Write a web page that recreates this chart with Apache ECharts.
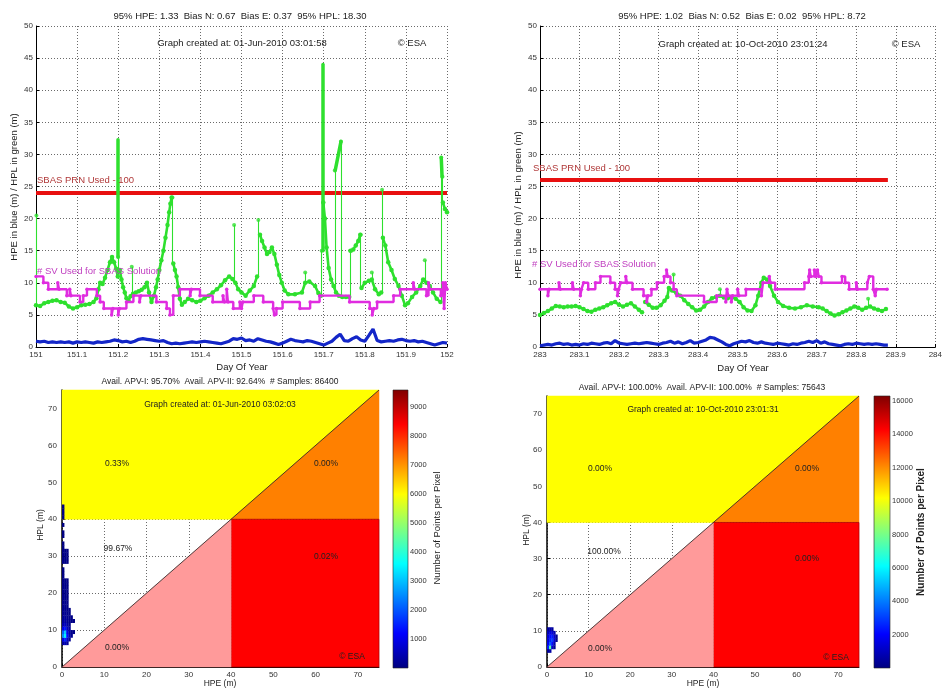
<!DOCTYPE html>
<html><head><meta charset="utf-8">
<script src="https://cdn.jsdelivr.net/npm/echarts@6/dist/echarts.min.js"></script>
<style>html,body{margin:0;padding:0;background:#fff}#c{width:945px;height:690px}</style>
</head><body><div id="c"></div>
<script>
// ---------------- DATA ----------------
// Top-left (day 151)
const dayRangeLeft = [151, 152];
const dayRangeRight = [283, 284];
const hpeLeftStart = 151.0, hpeRightStart = 283.0, hpeStep = 0.01;
const hpeLeft = [0.9,0.8,0.9,0.7,0.8,0.7,0.8,0.7,0.8,0.6,0.8,0.7,0.8,0.7,0.6,0.8,0.7,0.8,0.9,1.1,1.0,0.8,0.9,0.7,0.9,1.2,1.3,1.2,1.1,1.0,0.9,1.0,0.7,0.5,0.6,0.5,0.6,0.7,0.8,0.7,0.8,0.9,0.8,0.7,0.6,0.5,0.7,0.9,1.3,1.2,1.4,1.0,1.1,0.9,1.3,1.1,0.9,0.8,0.6,0.4,0.6,0.9,1.2,1.0,0.9,0.8,1.0,0.9,0.7,0.5,0.3,0.6,0.9,1.5,2.0,1.0,0.9,1.3,1.6,1.1,0.9,1.8,2.8,1.0,0.8,0.9,1.0,0.9,1.1,1.2,1.0,0.9,1.0,0.8,0.9,0.7,0.5,0.3,0.5,0.7,0.6];
const hplLeft = [[151.000,6.5],[151.010,6.4],[151.020,6.8],[151.030,7.0],[151.040,7.2],[151.050,7.3],[151.060,7.0],[151.070,6.9],[151.080,6.3],[151.090,6.0],[151.100,6.2],[151.110,6.5],[151.120,6.6],[151.130,6.7],[151.140,7.0],[151.147,7.6],[151.152,9.0],[151.156,10.0],[151.162,9.8],[151.168,10.8],[151.174,12.0],[151.180,13.2],[151.185,14.0],[151.190,13.2],[151.195,12.2],[151.199,11.0],
[151.201,'-'],
[151.204,12.0],[151.208,10.5],[151.212,9.3],[151.216,8.5],[151.220,7.6],[151.225,7.3],[151.230,7.9],[151.236,8.3],[151.243,8.5],[151.250,8.7],[151.257,8.9],[151.264,9.3],[151.270,10.0],[151.275,8.5],[151.281,7.0],[151.287,8.0],[151.292,9.3],[151.296,10.5],[151.300,12.0],[151.305,13.5],[151.310,15.0],[151.315,17.0],[151.320,19.0],[151.324,21.0],[151.327,22.3],[151.330,23.3],
[151.332,'-'],
[151.334,13.0],[151.338,12.0],[151.342,11.0],[151.346,9.3],[151.350,7.5],[151.355,6.6],[151.362,7.0],[151.370,7.5],[151.380,7.3],[151.390,7.0],[151.400,7.2],[151.410,7.6],[151.420,8.0],[151.430,8.5],[151.440,9.0],[151.450,9.6],[151.460,10.4],[151.470,11.0],[151.478,10.6],[151.485,10.0],[151.492,9.0],[151.500,8.5],[151.510,8.0],[151.520,8.8],[151.530,9.5],[151.538,11.0],
[151.541,'-'],
[151.545,17.5],[151.550,16.5],[151.556,15.5],[151.562,14.5],[151.568,14.8],[151.574,15.5],[151.580,14.5],[151.586,12.8],[151.592,11.2],[151.598,10.0],[151.605,8.8],[151.614,8.2],[151.630,8.2],[151.647,8.5],[151.655,10.0],[151.665,10.2],[151.679,9.5],[151.687,8.4],[151.693,8.0],
[151.696,'-'],
[151.699,22.5],[151.703,20.0],[151.707,15.5],[151.712,12.3],[151.718,10.5],[151.724,9.5],[151.730,8.5],[151.737,8.0],[151.745,7.8],[151.754,7.8],[151.762,7.8],
[151.764,'-'],
[151.766,15.0],[151.772,15.2],[151.778,15.8],[151.784,16.5],[151.789,17.5],
[151.790,'-'],
[151.792,9.2],[151.800,10.0],[151.810,10.3],[151.817,10.5],[151.825,9.0],[151.834,8.2],[151.840,8.5],
[151.842,'-'],
[151.844,17.0],[151.850,15.8],[151.857,13.2],[151.865,12.0],[151.873,10.6],[151.882,9.5],[151.890,8.0],[151.898,6.5],[151.905,6.8],[151.915,7.8],[151.925,8.5],[151.935,9.5],[151.942,10.5],[151.950,10.0],[151.958,9.5],[151.966,8.5],[151.975,7.5],[151.984,7.0],
[151.987,'-'],
[151.990,22.5],[151.995,21.5],[152.000,21.0]];
// thin jumps of HPL: [day, from, to]
const hplLeftSpikes = [[151.001,6.5,20.5],[151.200,11.0,14.0],[151.233,8.0,12.5],[151.332,13.0,23.3],[151.482,10.4,19.0],[151.541,11.0,19.8],[151.655,10.0,11.6],[151.695,8.0,15.0],[151.727,8.6,27.5],[151.742,7.9,32.0],[151.764,7.8,15.0],[151.790,9.2,17.5],[151.817,10.5,11.6],[151.842,8.5,24.5],[151.946,10.0,13.5],[151.986,7.0,29.5],[151.989,22.5,26.5]];
// dense HPL bursts: [day1, v1, day2, v2]
const hplLeftBursts = [[151.200,14.0,151.200,32.3],[151.697,15.0,151.697,44.0],[151.728,27.5,151.742,32.0],[151.986,29.5,151.988,26.5]];
const svLeft = [[151.000,11],[151.018,10],[151.030,9],[151.053,10],[151.056,9],[151.075,8],[151.082,9],[151.085,8],[151.107,7],[151.115,8],[151.124,9],[151.148,8],[151.156,7],[151.165,6],[151.184,5],[151.187,6],[151.200,5],[151.203,6],[151.220,7],[151.237,8],[151.252,7],[151.255,8],[151.293,7],[151.318,6],[151.326,5],[151.334,8],[151.350,9],[151.375,8],[151.378,9],[151.399,8],[151.430,7],[151.455,8],[151.458,7],[151.464,9],[151.467,7],[151.480,6],[151.496,7],[151.500,6],[151.503,7],[151.530,8],[151.553,7],[151.577,6],[151.580,5],[151.585,6],[151.600,7],[151.642,6],[151.667,7],[151.690,8],[151.763,7],[151.812,6],[151.818,5],[151.822,6],[151.830,7],[151.870,8],[151.886,9],[151.918,10],[151.921,9],[151.950,8],[151.955,10],[151.958,9],[151.985,8],[151.990,10],[151.993,6],[151.996,10],[152.000,9]];
const sbasLevelLeft = 24, sbasSpanLeft = [151, 152];

// Top-right (day 283)
const hpeRight = [0.2,0.3,0.4,0.3,0.5,0.6,0.4,0.5,0.3,0.4,0.3,0.5,0.4,0.6,0.5,0.4,0.6,0.7,0.5,1.0,0.6,0.5,0.4,0.5,0.6,0.5,0.6,0.7,0.6,0.5,0.4,0.6,0.7,0.9,0.6,0.8,0.5,0.7,1.0,0.6,0.7,0.9,1.1,1.5,1.4,1.1,0.8,0.4,0.2,0.5,0.7,0.9,0.8,1.0,0.7,0.6,0.8,0.6,0.5,0.4,0.6,0.5,0.4,0.3,0.5,0.4,0.6,0.7,0.9,0.7,1.0,0.6,0.8,0.5,0.4,0.3,0.2,0.4,0.5,0.4,0.6,0.5,0.4,0.5,0.4,0.5,0.4,0.3,0.3];
const hplRight = [[283.000,5.0],[283.010,5.3],[283.020,5.6],[283.030,6.0],[283.040,6.4],[283.050,6.3],[283.060,6.2],[283.070,6.3],[283.080,6.3],[283.090,6.4],[283.100,6.2],[283.110,5.9],[283.120,5.6],[283.130,5.5],[283.140,5.8],[283.150,6.0],[283.160,6.2],[283.170,6.5],[283.180,6.8],[283.190,7.0],[283.200,6.6],[283.210,6.3],[283.220,6.6],[283.230,6.8],[283.240,6.3],[283.250,5.8],[283.258,5.4],[283.263,'-'],[283.266,7.0],[283.275,6.6],[283.285,6.1],[283.295,6.1],[283.305,6.5],[283.315,7.2],[283.322,7.8],[283.326,9.2],[283.334,8.8],[283.345,8.4],[283.355,8.0],[283.365,7.3],[283.375,6.7],[283.385,6.2],[283.395,5.7],[283.405,5.8],[283.415,6.3],[283.425,7.0],[283.435,7.6],[283.445,7.8],[283.455,8.0],[283.465,7.7],[283.475,7.6],[283.485,7.8],[283.495,7.5],[283.505,7.0],[283.515,6.2],[283.525,5.7],[283.535,5.6],[283.545,6.5],[283.552,8.0],[283.560,10.0],[283.566,10.8],[283.574,10.5],[283.582,9.5],[283.592,8.0],[283.602,7.0],[283.615,6.4],[283.630,6.1],[283.645,6.0],[283.660,6.2],[283.675,6.5],[283.690,6.3],[283.705,6.2],[283.715,6.0],[283.725,5.6],[283.735,5.2],[283.745,4.9],[283.755,5.1],[283.765,5.4],[283.775,5.7],[283.785,6.0],[283.795,6.3],[283.805,6.1],[283.815,5.8],[283.825,6.1],[283.835,6.3],[283.845,6.0],[283.855,5.8],[283.865,5.6],[283.875,5.9]];
const hplRightSpikes = [[283.338,8.7,11.3],[283.455,8.0,9.0],[283.830,6.2,7.5]];
const svRight = [[283.000,9],[283.020,8],[283.023,9],[283.048,10],[283.051,9],[283.082,10],[283.085,9],[283.102,8],[283.105,9],[283.110,10],[283.122,9],[283.140,10],[283.153,11],[283.178,10],[283.190,9],[283.196,8],[283.199,9],[283.204,10],[283.217,11],[283.220,10],[283.234,9],[283.262,8],[283.270,7],[283.273,8],[283.282,9],[283.296,10],[283.314,11],[283.320,12],[283.323,11],[283.330,10],[283.338,9],[283.346,8],[283.415,7],[283.447,8],[283.470,7],[283.473,9],[283.476,8],[283.484,7],[283.487,8],[283.500,9],[283.503,8],[283.521,9],[283.560,8],[283.564,10],[283.580,11],[283.583,10],[283.595,9],[283.669,10],[283.680,11],[283.682,12],[283.685,11],[283.694,12],[283.697,11],[283.702,12],[283.705,11],[283.712,10],[283.764,11],[283.772,10],[283.782,9],[283.800,10],[283.803,9],[283.828,10],[283.833,11],[283.843,9],[283.848,8],[283.851,9],[283.878,9]];
const sbasLevelRight = 26, sbasSpanRight = [283, 283.88];

const dayTickStep = 0.1;

// Bottom: HPE/HPL 2D histograms
const stanfordTicks = [0,10,20,30,40,50,60,70];
const stanfordMax = 75;
const heatHpe = [0.25,0.75,1.25,1.75,2.25,2.75];
const heatLeftHpl = [6.5,7.5,8.5,9.5,10.5,11.5,12.5,13.5,14.5,15.5,16.5,17.5,18.5,19.5,20.5,21.5,22.5,23.5,24.5,25.5,26.5,28.5,29.5,30.5,31.5,32.5,33.5,35.5,36.5,38.5,40.5,41.5,42.5,43.5];
const heatLeftCounts = [
[300,500,250,0,0,0],[900,1500,700,200,0,0],[2500,3500,1300,450,150,0],[2100,3100,1000,350,120,90],[1000,1400,600,250,0,0],[450,600,350,120,0,0],[250,350,200,100,80,60],[180,240,150,90,70,0],[140,180,110,70,0,0],[120,150,90,60,0,0],[100,130,80,0,0,0],[100,120,80,0,0,0],[90,110,70,0,0,0],[90,100,60,0,0,0],[80,100,60,0,0,0],[80,90,50,0,0,0],[70,90,50,0,0,0],[60,80,40,0,0,0],[40,0,0,0,0,0],[30,0,0,0,0,0],[30,0,0,0,0,0],[60,80,50,0,0,0],[60,80,50,0,0,0],[60,70,40,0,0,0],[50,70,40,0,0,0],[30,0,0,0,0,0],[30,0,0,0,0,0],[30,0,0,0,0,0],[30,0,0,0,0,0],[30,0,0,0,0,0],[30,0,0,0,0,0],[30,0,0,0,0,0],[30,0,0,0,0,0],[30,0,0,0,0,0]];
const heatRightHpl = [4.5,5.5,6.5,7.5,8.5,9.5,10.5];
const heatRightCounts = [[400,600,0,0,0,0],[2500,7500,1200,300,0,0],[1800,3500,2200,700,0,0],[1500,2600,3000,1500,200,0],[1300,2200,2400,1300,200,0],[900,1600,1400,800,0,0],[400,700,500,0,0,0]];
const cbLeftRange = [0, 9600], cbLeftTicks = [1000,2000,3000,4000,5000,6000,7000,8000,9000];
const cbRightRange = [0, 16300], cbRightTicks = [2000,4000,6000,8000,10000,12000,14000,16000];
const polyYellow = [[0,40],[0,75],[75,75],[40,40]];
const polyOrange = [[40,40],[75,75],[75,40]];
const polyRed = [[40,0],[75,0],[75,40],[40,40]];
const polyPink = [[0,0],[40,40],[40,0]];

// ---------------- CHART ----------------
const FONT = '"Liberation Sans", Arial, Helvetica, sans-serif';
const GREEN = '#2ee02e', BLUE = '#1326c8', MAG = '#e02ce0', RED = '#e81010';
const jet = ['#00007f','#0000ff','#007fff','#00ffff','#7fff7f','#ffff00','#ff7f00','#ff0000','#7f0000'];
const chart = echarts.init(document.getElementById('c'), null, {renderer: 'canvas'});

const grids = [
  {left: 36, top: 26, width: 411, height: 321},
  {left: 540, top: 26, width: 406, height: 321},
  {left: 62, top: 390, width: 317, height: 277},
  {left: 547, top: 396, width: 312, height: 271},
  {left: 393, top: 390, width: 15, height: 278},
  {left: 874, top: 396, width: 16, height: 272}
];

const dotted = {show: true, lineStyle: {type: [1, 2], color: '#444', width: 0.8}};
const lbl = (extra) => Object.assign({fontSize: 8, color: '#333', fontFamily: FONT, margin: 4}, extra || {});
const axLine = {show: true, onZero: false, lineStyle: {color: '#000', width: 1}};
const tickIn = {show: true, inside: true, length: 3, lineStyle: {color: '#000'}};

const dayFmt = v => String(Math.round(v * 10) / 10);
const plainFmt = v => String(v);
const xAxes = [
  {gridIndex: 0, type: 'value', min: dayRangeLeft[0], max: dayRangeLeft[1], interval: dayTickStep, axisLine: axLine, axisTick: tickIn, axisLabel: lbl({formatter: dayFmt}), splitLine: dotted},
  {gridIndex: 1, type: 'value', min: dayRangeRight[0], max: dayRangeRight[1], interval: dayTickStep, axisLine: axLine, axisTick: tickIn, axisLabel: lbl({formatter: dayFmt}), splitLine: dotted},
  {gridIndex: 2, type: 'value', min: 0, max: stanfordMax, axisLine: axLine, axisTick: Object.assign({customValues: stanfordTicks}, tickIn), axisLabel: lbl({customValues: stanfordTicks, formatter: plainFmt}), splitLine: dotted},
  {gridIndex: 3, type: 'value', min: 0, max: stanfordMax, axisLine: axLine, axisTick: Object.assign({customValues: stanfordTicks}, tickIn), axisLabel: lbl({customValues: stanfordTicks, formatter: plainFmt}), splitLine: dotted},
  {gridIndex: 4, type: 'value', min: 0, max: 1, show: false},
  {gridIndex: 5, type: 'value', min: 0, max: 1, show: false}
];
const yAxes = [
  {gridIndex: 0, type: 'value', min: 0, max: 50, interval: 5, axisLine: axLine, axisTick: tickIn, axisLabel: lbl({margin: 3}), splitLine: dotted},
  {gridIndex: 1, type: 'value', min: 0, max: 50, interval: 5, axisLine: axLine, axisTick: tickIn, axisLabel: lbl({margin: 3}), splitLine: dotted},
  {gridIndex: 2, type: 'value', min: 0, max: stanfordMax, axisLine: Object.assign({}, axLine, {lineStyle: {color: '#000', width: 1.5}}), axisTick: Object.assign({customValues: stanfordTicks}, tickIn), axisLabel: lbl({customValues: stanfordTicks, margin: 5, formatter: plainFmt}), splitLine: dotted},
  {gridIndex: 3, type: 'value', min: 0, max: stanfordMax, axisLine: Object.assign({}, axLine, {lineStyle: {color: '#000', width: 1.5}}), axisTick: Object.assign({customValues: stanfordTicks}, tickIn), axisLabel: lbl({customValues: stanfordTicks, margin: 5, formatter: plainFmt}), splitLine: dotted},
  {gridIndex: 4, type: 'value', min: cbLeftRange[0], max: cbLeftRange[1], position: 'right', axisLine: {show: false}, axisTick: {show: true, customValues: cbLeftTicks, length: 3, lineStyle: {color: '#333'}}, axisLabel: lbl({customValues: cbLeftTicks, margin: 2, fontSize: 7.5, formatter: plainFmt}), splitLine: {show: false}},
  {gridIndex: 5, type: 'value', min: cbRightRange[0], max: cbRightRange[1], position: 'right', axisLine: {show: false}, axisTick: {show: true, customValues: cbRightTicks, length: 3, lineStyle: {color: '#333'}}, axisLabel: lbl({customValues: cbRightTicks, margin: 2, fontSize: 7.5, formatter: plainFmt}), splitLine: {show: false}}
];

const series = [];
const add = s => { series.push(Object.assign({animation: false, silent: true}, s)); return series.length - 1; };

function timePanel(ax, hpe, hpeStart, hpl, spikes, bursts, sv, sbasLevel, sbasSpan) {
  add({type: 'line', xAxisIndex: ax, yAxisIndex: ax, data: [[sbasSpan[0], sbasLevel], [sbasSpan[1], sbasLevel]], showSymbol: false, lineStyle: {color: RED, width: 4}, z: 2});
  add({type: 'line', xAxisIndex: ax, yAxisIndex: ax, data: hpe.map((v, i) => [hpeStart + i * hpeStep, v]), showSymbol: false, lineStyle: {color: BLUE, width: 3.2}, z: 3});
  add({type: 'lines', coordinateSystem: 'cartesian2d', xAxisIndex: ax, yAxisIndex: ax, data: spikes.map(s => ({coords: [[s[0], s[1]], [s[0], s[2]]]})), lineStyle: {color: GREEN, width: 1.1, opacity: 1}, z: 4});
  add({type: 'scatter', xAxisIndex: ax, yAxisIndex: ax, data: spikes.map(s => [s[0], s[2]]), symbolSize: 4, itemStyle: {color: GREEN}, z: 4});
  if (bursts.length) add({type: 'lines', coordinateSystem: 'cartesian2d', xAxisIndex: ax, yAxisIndex: ax, data: bursts.map(b => ({coords: [[b[0], b[1]], [b[2], b[3]]]})), lineStyle: {color: GREEN, width: 3.5, opacity: 1, cap: 'round'}, z: 4});
  add({type: 'line', xAxisIndex: ax, yAxisIndex: ax, data: hpl, connectNulls: false, symbol: 'circle', symbolSize: 4.5, showSymbol: true, itemStyle: {color: GREEN}, lineStyle: {color: GREEN, width: 2.6}, z: 4});
  add({type: 'line', xAxisIndex: ax, yAxisIndex: ax, data: sv, step: 'end', symbol: 'circle', symbolSize: 3.5, showSymbol: true, itemStyle: {color: MAG}, lineStyle: {color: MAG, width: 2.4}, z: 5});
}
timePanel(0, hpeLeft, hpeLeftStart, hplLeft, hplLeftSpikes, hplLeftBursts, svLeft, sbasLevelLeft, sbasSpanLeft);
timePanel(1, hpeRight, hpeRightStart, hplRight, hplRightSpikes, [], svRight, sbasLevelRight, sbasSpanRight);

const heatIdx = [];
function stanfordPanel(ax, hplRows, counts) {
  const polys = [polyYellow, polyOrange, polyRed, polyPink];
  const fills = ['#ffff00', '#ff8000', '#ff0000', '#ff9a9a'];
  add({type: 'custom', xAxisIndex: ax, yAxisIndex: ax, data: polys.map((p, i) => [p[0][0], p[0][1], i]), z: 2,
    renderItem: (params, api) => {
      const i = params.dataIndex;
      return {type: 'polygon', shape: {points: polys[i].map(p => api.coord(p))}, style: {fill: fills[i], stroke: i === 2 ? '#b00000' : fills[i], lineWidth: i === 2 ? 0.8 : 0.5}};
    }});
  add({type: 'lines', coordinateSystem: 'cartesian2d', xAxisIndex: ax, yAxisIndex: ax, data: [{coords: [[0, 0], [stanfordMax, stanfordMax]]}], lineStyle: {color: '#222', width: 0.8, opacity: 1}, z: 3});
  const cells = [];
  hplRows.forEach((h, r) => counts[r].forEach((c, k) => { if (c > 0) cells.push([heatHpe[k], h, c]); }));
  heatIdx.push(add({type: 'custom', xAxisIndex: ax, yAxisIndex: ax, data: cells, z: 5, encode: {x: 0, y: 1},
    renderItem: (params, api) => {
      const x = api.value(0), y = api.value(1);
      const p0 = api.coord([x - 0.25, y + 0.5]), p1 = api.coord([x + 0.25, y - 0.5]);
      return {type: 'rect', shape: {x: p0[0], y: p0[1], width: p1[0] - p0[0] + 0.3, height: p1[1] - p0[1] + 0.3}, style: {fill: api.visual('color')}};
    }}));
}
stanfordPanel(2, heatLeftHpl, heatLeftCounts);
stanfordPanel(3, heatRightHpl, heatRightCounts);

function colorbar(ax, range) {
  add({type: 'custom', xAxisIndex: ax, yAxisIndex: ax, data: [[0, range[0]]], z: 2,
    renderItem: (params, api) => {
      const p0 = api.coord([0, range[1]]), p1 = api.coord([1, range[0]]);
      return {type: 'rect', shape: {x: p0[0], y: p0[1], width: p1[0] - p0[0], height: p1[1] - p0[1]},
        style: {fill: new echarts.graphic.LinearGradient(0, 1, 0, 0, jet.map((c, i) => ({offset: i / (jet.length - 1), color: c}))), stroke: '#222', lineWidth: 0.6}};
    }});
}
colorbar(4, cbLeftRange);
colorbar(5, cbRightRange);

function T(x, y, text, o) {
  o = o || {};
  return {type: 'text', x: x, y: y, rotation: o.rot || 0, silent: true, z: 100,
    style: {text: text, fontSize: o.size || 9.5, fontFamily: FONT, fontWeight: o.bold ? 'bold' : 'normal', fill: o.color || '#222',
      align: o.align || 'center', verticalAlign: 'middle', textAlign: o.align || 'center', textVerticalAlign: 'middle'}};
}
const graphics = [
  T(240, 16, '95% HPE: 1.33  Bias N: 0.67  Bias E: 0.37  95% HPL: 18.30'),
  T(242, 43, 'Graph created at: 01-Jun-2010 03:01:58'),
  T(412, 43, '© ESA'),
  T(742, 16, '95% HPE: 1.02  Bias N: 0.52  Bias E: 0.02  95% HPL: 8.72'),
  T(743, 44, 'Graph created at: 10-Oct-2010 23:01:24'),
  T(906, 44, '© ESA'),
  T(242, 367, 'Day Of Year'),
  T(743, 368, 'Day Of Year'),
  T(14, 187, 'HPE in blue (m) / HPL in green (m)', {rot: Math.PI / 2}),
  T(518, 205, 'HPE in blue (m) / HPL in green (m)', {rot: Math.PI / 2}),
  T(37, 180, 'SBAS PRN Used - 100', {align: 'left', color: '#b03838'}),
  T(533, 168, 'SBAS PRN Used - 100', {align: 'left', color: '#b03838'}),
  T(37, 271, '# SV Used for SBAS Solution', {align: 'left', color: '#c040c0'}),
  T(532, 264, '# SV Used for SBAS Solution', {align: 'left', color: '#c040c0'}),
  T(220, 382, 'Avail. APV-I: 95.70%  Avail. APV-II: 92.64%  # Samples: 86400', {size: 8.5}),
  T(702, 388, 'Avail. APV-I: 100.00%  Avail. APV-II: 100.00%  # Samples: 75643', {size: 8.5}),
  T(220, 405, 'Graph created at: 01-Jun-2010 03:02:03', {size: 8.5}),
  T(703, 410, 'Graph created at: 10-Oct-2010 23:01:31', {size: 8.5}),
  T(117, 464, '0.33%', {size: 8.5}), T(326, 464, '0.00%', {size: 8.5}),
  T(118, 549, '99.67%', {size: 8.5}), T(326, 557, '0.02%', {size: 8.5}),
  T(117, 648, '0.00%', {size: 8.5}), T(352, 657, '© ESA', {size: 8.5}),
  T(600, 469, '0.00%', {size: 8.5}), T(807, 469, '0.00%', {size: 8.5}),
  T(604, 552, '100.00%', {size: 8.5}), T(807, 559, '0.00%', {size: 8.5}),
  T(600, 649, '0.00%', {size: 8.5}), T(836, 658, '© ESA', {size: 8.5}),
  T(220, 684, 'HPE (m)', {size: 8.5}),
  T(703, 684, 'HPE (m)', {size: 8.5}),
  T(41, 525, 'HPL (m)', {size: 8.5, rot: Math.PI / 2}),
  T(527, 530, 'HPL (m)', {size: 8.5, rot: Math.PI / 2}),
  T(437, 528, 'Number of Points per Pixel', {size: 9.5, rot: Math.PI / 2}),
  T(921, 532, 'Number of Points per Pixel', {size: 10, bold: true, rot: Math.PI / 2})
];

chart.setOption({
  animation: false,
  backgroundColor: '#fff',
  grid: grids,
  xAxis: xAxes,
  yAxis: yAxes,
  visualMap: [
    {type: 'continuous', show: false, seriesIndex: heatIdx[0], dimension: 2, min: cbLeftRange[0], max: cbLeftRange[1], inRange: {color: jet}},
    {type: 'continuous', show: false, seriesIndex: heatIdx[1], dimension: 2, min: cbRightRange[0], max: cbRightRange[1], inRange: {color: jet}}
  ],
  series: series,
  graphic: graphics
});
</script></body></html>
